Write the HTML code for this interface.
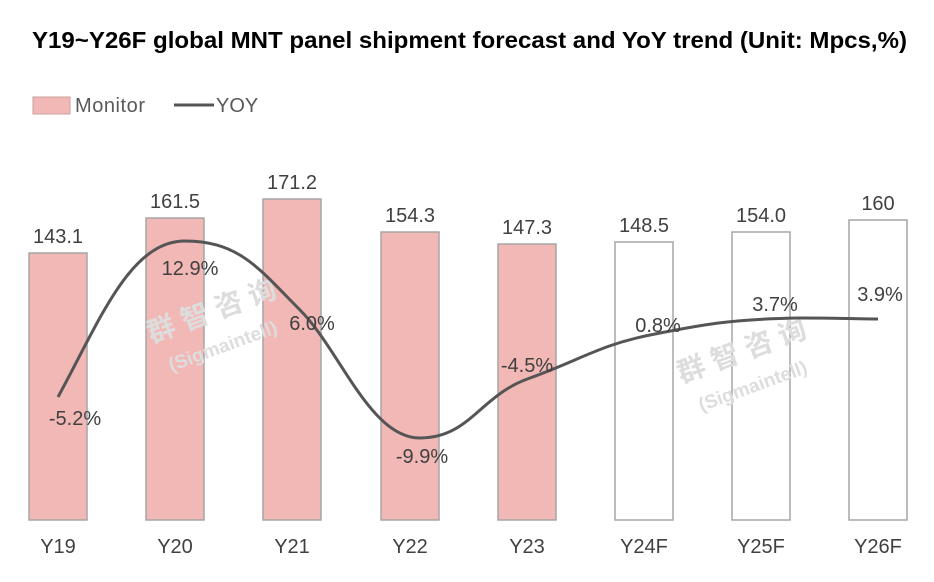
<!DOCTYPE html>
<html><head><meta charset="utf-8"><style>
body{margin:0;background:#fff;}
svg text{font-family:"Liberation Sans","Noto Sans CJK SC",sans-serif;}
</style></head><body>
<svg width="934" height="577" viewBox="0 0 934 577" xmlns="http://www.w3.org/2000/svg">
<rect width="934" height="577" fill="#fff"/>
<text x="32" y="48" font-size="23" font-weight="bold" fill="#000" textLength="875" lengthAdjust="spacingAndGlyphs">Y19~Y26F global MNT panel shipment forecast and YoY trend (Unit: Mpcs,%)</text>
<rect x="33" y="97" width="37" height="17" fill="#f2b8b6" stroke="#c9a09f"/>
<text x="75" y="112" font-size="20" fill="#595959" textLength="70">Monitor</text>
<line x1="174" y1="105" x2="214" y2="105" stroke="#555" stroke-width="3"/>
<text x="216" y="112" font-size="20" fill="#595959">YOY</text>
<g stroke="#a6a6a6" stroke-width="1.5">
<rect x="29" y="253" width="58" height="267" fill="#f2b8b6"/>
<rect x="146" y="218" width="58" height="302" fill="#f2b8b6"/>
<rect x="263" y="199" width="58" height="321" fill="#f2b8b6"/>
<rect x="381" y="232" width="58" height="288" fill="#f2b8b6"/>
<rect x="498" y="244" width="58" height="276" fill="#f2b8b6"/>
<rect x="615" y="242" width="58" height="278" fill="#fff"/>
<rect x="732" y="232" width="58" height="288" fill="#fff"/>
<rect x="849" y="220" width="58" height="300" fill="#fff"/>
</g>
<g font-size="20" fill="#404040" text-anchor="middle">
<text x="58" y="243">143.1</text><text x="175" y="208">161.5</text><text x="292" y="189">171.2</text>
<text x="410" y="222">154.3</text><text x="527" y="234">147.3</text><text x="644" y="232">148.5</text>
<text x="761" y="222">154.0</text><text x="878" y="210">160</text>
<text x="58" y="553">Y19</text><text x="175" y="553">Y20</text><text x="292" y="553">Y21</text>
<text x="410" y="553">Y22</text><text x="527" y="553">Y23</text><text x="644" y="553">Y24F</text>
<text x="761" y="553">Y25F</text><text x="878" y="553">Y26F</text>
</g>
<g font-size="19" fill="#ddd" font-weight="bold" text-anchor="middle">
<text x="215" y="320" transform="rotate(-20 215 320)" font-size="28">群 智 咨 询</text>
<text x="225" y="352" transform="rotate(-20 225 352)">(Sigmaintell)</text>
<text x="745" y="360" transform="rotate(-20 745 360)" font-size="28">群 智 咨 询</text>
<text x="755" y="392" transform="rotate(-20 755 392)">(Sigmaintell)</text>
</g>
<path d="M58,397 C100,320 130,241 185,241 C240,241 260,270 300,310 C340,350 370,438 420,438 C470,438 480,395 530,378 C580,360 600,345 650,335 C700,325 730,319 800,318 C840,318 860,319 878,319" fill="none" stroke="#555" stroke-width="3"/>
<g font-size="20" fill="#404040" text-anchor="middle">
<text x="75" y="425">-5.2%</text><text x="190" y="275">12.9%</text><text x="312" y="330">6.0%</text>
<text x="422" y="463">-9.9%</text><text x="527" y="372">-4.5%</text><text x="658" y="332">0.8%</text>
<text x="775" y="311">3.7%</text><text x="880" y="301">3.9%</text>
</g>
</svg>
</body></html>
